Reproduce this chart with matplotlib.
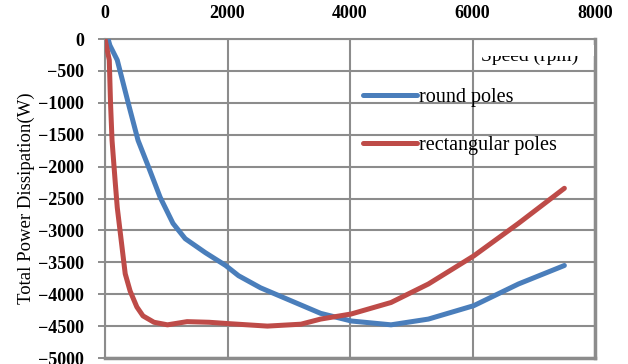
import matplotlib.pyplot as plt
from matplotlib.patches import Rectangle

# speed (rpm) and total power dissipation (W)
speed_round = [50, 80, 200, 400, 540, 700, 900, 1110, 1310, 1640, 1970, 2180,
               2540, 3030, 3520, 4020, 4670, 5280, 6020, 6750, 7500]
power_round = [0, -100, -330, -1080, -1590, -1980, -2480, -2890, -3130, -3350,
               -3550, -3710, -3900, -4100, -4300, -4420, -4480, -4390, -4180,
               -3840, -3550]

speed_rect = [0, 70, 90, 115, 165, 200, 330, 410, 520, 620, 800, 1020, 1340,
              1700, 2000, 2650, 3200, 3520, 4020, 4670, 5280, 6020, 6750, 7500]
power_rect = [0, -330, -1000, -1590, -2220, -2640, -3680, -3950, -4200, -4340,
              -4440, -4480, -4430, -4440, -4460, -4500, -4470, -4390, -4310,
              -4130, -3840, -3400, -2890, -2340]

x_ticks = [0, 2000, 4000, 6000, 8000]
y_ticks = [0, -500, -1000, -1500, -2000, -2500, -3000, -3500, -4000, -4500, -5000]

blue = '#4a7ebb'
red = '#be4b48'
grey = '#8c8c8c'

plt.rcParams['font.family'] = ['Liberation Serif', 'DejaVu Serif']

fig = plt.figure(figsize=(6.28, 3.64), dpi=100)
ax = fig.add_axes([105 / 628, 1 - 358 / 364, 490 / 628, 319 / 364])

ax.plot(speed_round, power_round, color=blue, lw=3.6, label='round poles',
        solid_capstyle='round', solid_joinstyle='round', zorder=5)
ax.plot(speed_rect, power_rect, color=red, lw=3.6, label='rectangular poles',
        solid_capstyle='round', solid_joinstyle='round', zorder=5)

ax.set_xlim(0, 8000)
ax.set_ylim(-5000, 0)
ax.set_xticks(x_ticks)
ax.set_yticks(y_ticks)
ax.xaxis.tick_top()
ax.tick_params(axis='x', length=0, pad=12, labelsize=13)
ax.tick_params(axis='y', length=5, width=1.4, color=grey, pad=10, labelsize=13)
for lab in ax.get_xticklabels() + ax.get_yticklabels():
    lab.set_fontweight('bold')

ax.grid(True, color=grey, lw=1.5)
ax.set_axisbelow(True)
for side, sp in ax.spines.items():
    sp.set_color(grey)
    sp.set_linewidth(1.5)
ax.spines['right'].set_linewidth(2.5)
ax.spines['bottom'].set_linewidth(2.5)

ax.set_ylabel('Total Power Dissipation(W)', fontsize=13.5, labelpad=2)

# partly hidden axis title box at the top right
ax.add_patch(Rectangle((6030, -377), 1960, 283, facecolor='white',
                       edgecolor='none', zorder=2.5))
ax.text(6934, -346, 'Speed (rpm)', fontsize=14, ha='center', va='baseline',
        zorder=3)
ax.add_patch(Rectangle((6030, -270), 1960, 176, facecolor='white',
                       edgecolor='none', zorder=4))

ax.legend(loc='upper left', bbox_to_anchor=(363 / 628, 1 - 88 / 364),
          bbox_transform=fig.transFigure, frameon=False, fontsize=14.5,
          handlelength=2.7, handletextpad=0.1, labelspacing=1.45,
          borderpad=0, borderaxespad=0)

fig.savefig('out.png', dpi=100)
